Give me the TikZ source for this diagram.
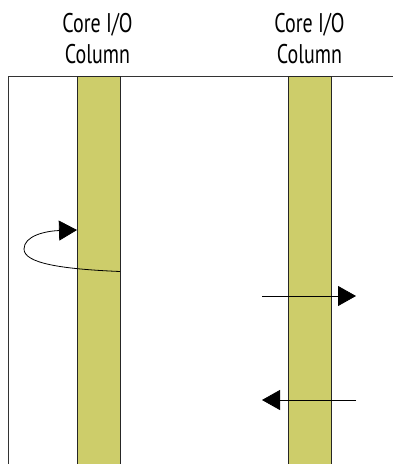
\documentclass[tikz,border=0pt]{standalone}
\usepackage{fontspec}
\setmainfont{PT Sans}[FakeStretch=0.74]
\usetikzlibrary{arrows.meta}
\definecolor{colfill}{RGB}{205,205,106}
\tikzset{
  iocol/.style={draw=black!85, line width=0.9pt, fill=colfill, rectangle, inner sep=0pt, minimum width=43pt, minimum height=390pt, anchor=north},
  frameline/.style={draw=black!80, line width=0.9pt},
  sig/.style={draw=black, line width=0.8pt, -{Triangle[length=18pt,width=20pt]}},
  lbl/.style={font=\fontsize{27}{31}\selectfont, inner sep=0pt, anchor=base}
}
\begin{document}
\begin{tikzpicture}[x=1pt,y=-1pt]
\useasboundingbox (0,0) rectangle (393,464);
\draw[frameline] (8.5,464) -- (8.5,76) -- (393,76);
\node[iocol] (c1) at (98.5,76) {};
\node[iocol] (c2) at (310,76) {};
\node[lbl] (t1a) at (97.5,32) {Core I/O};
\node[lbl] (t1b) at (97.5,63) {Column};
\node[lbl] (t2a) at (309.5,32) {Core I/O};
\node[lbl] (t2b) at (309.5,63) {Column};
\coordinate (ls) at (120,271.5);
\coordinate (le) at (77,230);
\draw[sig] (ls) .. controls (60,269) and (24,263) .. (24,249) .. controls (24,236) and (45,231) .. (le);
\coordinate (a1s) at (262,296);
\coordinate (a1e) at (356,296);
\draw[sig] (a1s) -- (a1e);
\coordinate (a2s) at (356,400);
\coordinate (a2e) at (262,400);
\draw[sig] (a2s) -- (a2e);
\end{tikzpicture}
\end{document}
